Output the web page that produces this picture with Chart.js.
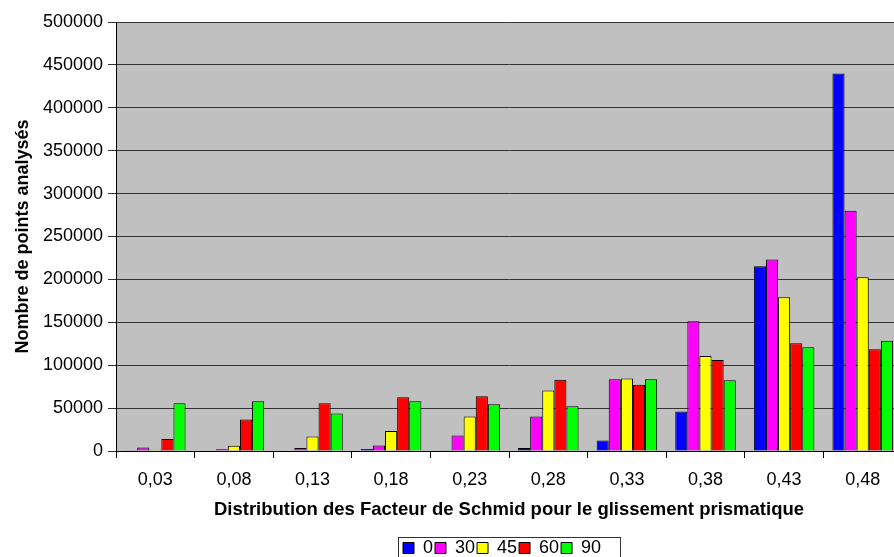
<!DOCTYPE html>
<html>
<head>
<meta charset="utf-8">
<script src="https://cdn.jsdelivr.net/npm/chart.js@4/dist/chart.umd.min.js"></script>
<style>
  html, body { margin: 0; padding: 0; overflow: hidden; background: #fff; }
</style>
</head>
<body>
<canvas id="graficaSchmid" width="998" height="575"></canvas>
<script>
// categories (facteur de Schmid) et series (angles)
var categories = ['0,03', '0,08', '0,13', '0,18', '0,23', '0,28', '0,33', '0,38', '0,43', '0,48'];
var serie0  = [1000, 0, 0, 2300, 800, 3500, 12100, 46000, 215400, 440000];
var serie30 = [4000, 2000, 3500, 6300, 18000, 40200, 83700, 151100, 223100, 280000];
var serie45 = [1600, 6200, 16800, 23400, 40200, 70500, 84600, 110600, 179200, 202600];
var serie60 = [14000, 36700, 55700, 62700, 63900, 83000, 77100, 106000, 125500, 118500];
var serie90 = [55700, 58000, 43700, 58000, 54500, 52200, 83700, 82600, 120800, 128500];
var yMax = 500000;
var yStep = 50000;

Chart.defaults.font.family = '"Liberation Sans", Arial, sans-serif';
Chart.defaults.color = '#000';

// fond gris de la zone de tracé
var fondGris = {
    id: 'fondGris',
    beforeDraw: function (chart) {
        var a = chart.chartArea;
        var ctx = chart.ctx;
        ctx.save();
        ctx.fillStyle = '#c0c0c0';
        ctx.fillRect(a.left, a.top, a.right - a.left, a.bottom - a.top);
        ctx.restore();
    }
};

// déplacer la légende (elle est centrée sous le graphique) + cadre autour
var LEGENDE_X = 403;
var cadreLegende = {
    id: 'cadreLegende',
    afterUpdate: function (chart) {
        var lg = chart.legend;
        if (!lg || !lg.legendHitBoxes || !lg.legendHitBoxes.length) return;
        var minX = Math.min.apply(null, lg.legendHitBoxes.map(function (b) { return b.left; }));
        var d = LEGENDE_X - minX;
        lg.left += d;
        lg.right += d;
        lg.adjustHitBoxes();
    },
    afterDraw: function (chart) {
        var lg = chart.legend;
        if (!lg || !lg.legendHitBoxes || !lg.legendHitBoxes.length) return;
        var minX = Math.min.apply(null, lg.legendHitBoxes.map(function (b) { return b.left; }));
        var ctx = chart.ctx;
        ctx.save();
        ctx.strokeStyle = '#333';
        ctx.lineWidth = 1;
        ctx.strokeRect(Math.round(minX - 5) + 0.5, Math.round(lg.top) + 0.5, 222, 40);
        ctx.restore();
    }
};

function serie(label, data, color) {
    return {
        label: label,
        data: data,
        backgroundColor: color,
        borderColor: '#000',
        borderWidth: 1,
        barPercentage: 1.0,
        categoryPercentage: 0.77
    };
}

var ctx = document.getElementById('graficaSchmid').getContext('2d');
var myChart = new Chart(ctx, {
    type: 'bar',
    data: {
        labels: categories,
        datasets: [
            serie('0', serie0, '#0000ff'),
            serie('30', serie30, '#ff00ff'),
            serie('45', serie45, '#ffff00'),
            serie('60', serie60, '#ff0000'),
            serie('90', serie90, '#00ff00')
        ]
    },
    options: {
        responsive: false,
        animation: false,
        layout: { padding: { top: 22, left: 0, right: 96, bottom: 8 } },
        plugins: {
            tooltip: { enabled: false },
            legend: {
                position: 'bottom',
                labels: {
                    boxWidth: 11,
                    boxHeight: 11,
                    padding: 2,
                    color: '#000',
                    font: { size: 18 }
                }
            }
        },
        scales: {
            x: {
                grid: { drawOnChartArea: false, drawTicks: true, tickLength: 7, color: '#000' },
                border: { color: '#000' },
                ticks: { padding: 11, font: { size: 18 }, maxRotation: 0 },
                title: {
                    display: true,
                    text: 'Distribution des Facteur de Schmid pour le glissement prismatique',
                    font: { size: 18.5, weight: 'bold' },
                    padding: { top: 4, bottom: 16 }
                },
                afterFit: function (scale) { scale.height = 86; }
            },
            y: {
                min: 0,
                max: yMax,
                grid: { color: '#333', tickLength: 8 },
                border: { color: '#000' },
                ticks: {
                    stepSize: yStep,
                    padding: 5,
                    font: { size: 18 },
                    callback: function (v) { return String(v); }
                },
                title: {
                    display: true,
                    text: 'Nombre de points analysés',
                    font: { size: 18, weight: 'bold' },
                    padding: { top: 12, bottom: 0 }
                },
                afterFit: function (scale) { scale.width = 116; }
            }
        }
    },
    plugins: [fondGris, cadreLegende]
});
</script>
</body>
</html>
